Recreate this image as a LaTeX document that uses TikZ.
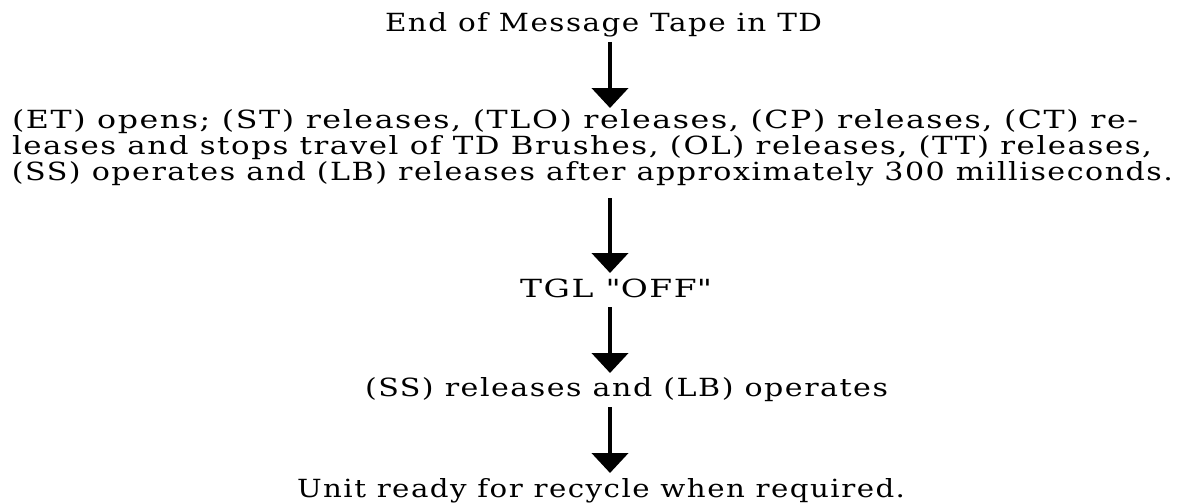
\documentclass[tikz,border=0pt]{standalone}
\usepackage{fontspec}
\usepackage{graphicx}
\setmainfont{DejaVu Serif}[LetterSpace=5]
\newfontfamily\plainquote{DejaVu Serif}[LetterSpace=5]
\usetikzlibrary{arrows.meta}
\newcommand{\fitto}[2]{\resizebox{#1}{\height}{#2}}
\tikzset{
  txt/.style={inner sep=0pt, outer sep=0pt, anchor=base west,
    font=\fontsize{25pt}{28pt}\selectfont},
  flowarrow/.style={line width=4.5pt, -{Triangle[width=36pt,length=20pt]}}
}
\begin{document}
\begin{tikzpicture}[x=1pt,y=1pt]
\useasboundingbox (0,0) rectangle (1183,-503);
\coordinate (ax) at (610,0);
\node[txt] (t) at (385,-32) {\fitto{437pt}{End of Message Tape in TD}};
\node[txt] (p1) at (12,-128) {\fitto{1126pt}{(ET) opens; (ST) releases, (TLO) releases, (CP) releases, (CT) re-}};
\node[txt] (p2) at (12,-154) {\fitto{1140pt}{leases and stops travel of TD Brushes, (OL) releases, (TT) releases,}};
\node[txt] (p3) at (12,-180) {\fitto{1161pt}{(SS) operates and (LB) releases after approximately 300 milliseconds.}};
\node[txt] (g) at (520,-297) {\fitto{192pt}{TGL {\plainquote "}OFF{\plainquote "}}};
\node[txt] (s) at (365,-396) {\fitto{523pt}{(SS) releases and (LB) operates}};
\node[txt] (u) at (297,-497) {\fitto{608pt}{Unit ready for recycle when required.}};
\draw[flowarrow] ([yshift=-10pt]t.base -| ax) -- ([yshift=20pt]p1.base -| ax);
\draw[flowarrow] ([yshift=-18pt]p3.base -| ax) -- ([yshift=24pt]g.base -| ax);
\draw[flowarrow] ([yshift=-10pt]g.base -| ax) -- ([yshift=23pt]s.base -| ax);
\draw[flowarrow] ([yshift=-11pt]s.base -| ax) -- ([yshift=24pt]u.base -| ax);
\end{tikzpicture}
\end{document}
